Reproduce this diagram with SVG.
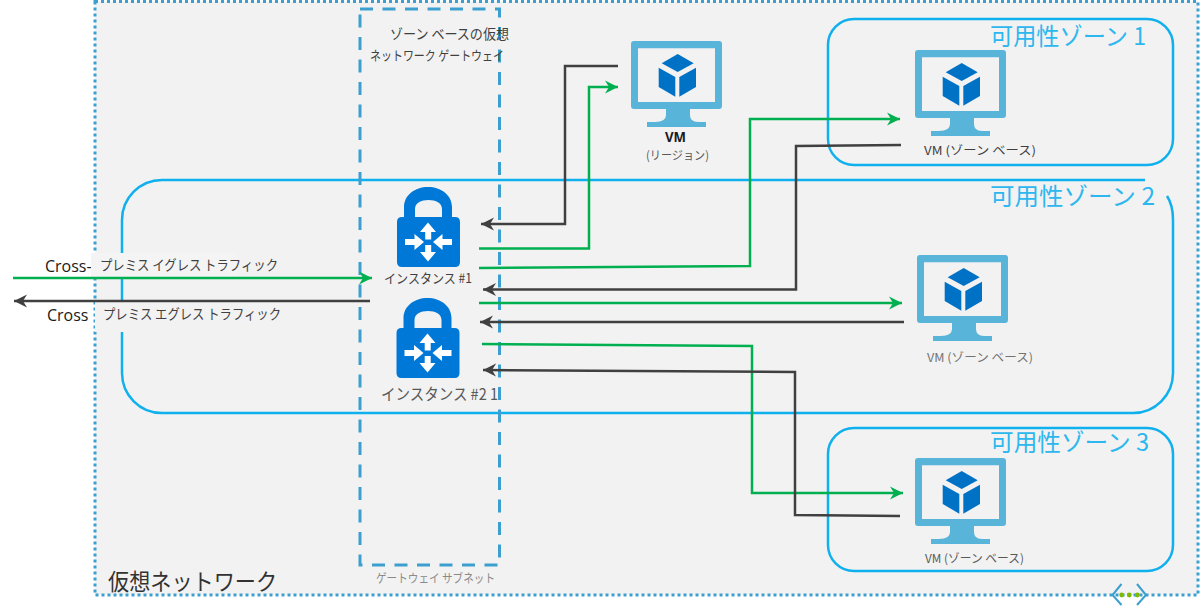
<svg xmlns="http://www.w3.org/2000/svg" xmlns:xlink="http://www.w3.org/1999/xlink" width="1200" height="614" viewBox="0 0 1200 614">
<style>
text{font-family:"Noto Sans CJK JP","Noto Sans",sans-serif;fill:#404040}
.latin{font-family:"Open Sans","Noto Sans",sans-serif}
.zone{fill:none;stroke:#0fb0ee;stroke-width:2.5}
text.zl{fill:#2db7ef;font-size:24px}
.c{fill:none;stroke-width:2.5}
.g{stroke:#00b050;marker-end:url(#ag)}
.d{stroke:#404040;marker-end:url(#ad)}
.sc{fill:#59b4d9}
.cube{fill:#0072c6}
.m{font-size:12px}
text.black{fill:#1a1a1a}
text.mid{fill:#595959}
text.soft{fill:#737373}
text.pale{fill:#8a8a8a}
text.title{fill:#333}
</style>
<defs>
<marker id="ag" markerUnits="userSpaceOnUse" markerWidth="16" markerHeight="16" refX="13" refY="7" orient="auto"><path d="M0 0.5 L13 7 L0 13.5 L4 7Z" fill="#00b050"/></marker>
<marker id="ad" markerUnits="userSpaceOnUse" markerWidth="16" markerHeight="16" refX="13" refY="7" orient="auto"><path d="M0 0.5 L13 7 L0 13.5 L4 7Z" fill="#404040"/></marker>
<g id="vmicon">
<path class="sc" fill-rule="evenodd" d="M3 0H88Q91 0 91 3V65Q91 68 88 68H59V74Q59 81 67 81H75V86H16V81H24Q35 81 35 74V68H3Q0 68 0 65V3Q0 0 3 0ZM7 7.300V61H84V7.300Z"/>
<path class="cube" d="M46.700 13L62.700 22.300L46.700 31L30.700 22.300Z"/>
<path class="cube" d="M27.700 26.700L44.300 36V55.700L27.700 46Z"/>
<path class="cube" d="M48.300 36L65 26.700V46L48.300 55.700Z"/>
</g>
<g id="lock">
<path fill="#0078d7" fill-rule="evenodd" d="M7 30V20C7 8 18 0 31 0S55 8 55 20V30H58Q63 30 63 35V75Q63 80 58 80H5Q0 80 0 75V35Q0 30 5 30ZM18 30H45V22C45 16 39 13 31.500 13S18 16 18 22Z"/>
<g fill="#fff">
<path d="M31 35.500L39 45H34.200V52.500H28.200V45H23Z"/>
<path d="M31 74.500L39 65H34.200V58H28.200V65H23Z"/>
<path d="M27 55L17.500 63V58H8V52H17.500V47Z"/>
<path d="M36 55L45.500 47V52H55V58H45.500V63Z"/>
</g>
</g>
</defs>
<rect width="1200" height="614" fill="#fff"/>
<g id="vnet">
<rect x="95" y="1.500" width="1103" height="593.500" fill="#f2f2f2" stroke="#3c9fd0" stroke-width="3" stroke-dasharray="3 3"/>
<text class="title" x="108" y="590" font-size="23" textLength="169" lengthAdjust="spacingAndGlyphs">仮想ネットワーク</text>
<g id="vnet-icon">
<path d="M1121.500 584L1112.500 595L1121.500 605M1137 584L1146 595L1137 605" fill="none" stroke="#3c9fd0" stroke-width="2"/>
<circle cx="1121.700" cy="595" r="2.400" fill="#7fba00"/><circle cx="1129.300" cy="595" r="2.400" fill="#7fba00"/><circle cx="1137.300" cy="595" r="2.400" fill="#7fba00"/>
</g>
</g>
<g id="zone-1">
<rect class="zone" x="828" y="19" width="345" height="146" rx="26"/>
<text class="zl" x="990" y="45" textLength="156" lengthAdjust="spacingAndGlyphs">可用性ゾーン 1</text>
</g>
<g id="zone-2">
<path class="zone" d="M1145 180H162A40 40 0 0 0 122 220V373A40 40 0 0 0 162 413H1133A40 40 0 0 0 1173 373V220Q1173 205 1167 196"/>
<text class="zl" x="990" y="205" textLength="165" lengthAdjust="spacingAndGlyphs">可用性ゾーン 2</text>
</g>
<g id="zone-3">
<rect class="zone" x="828" y="428" width="345" height="143" rx="26"/>
<text class="zl" x="990" y="451" textLength="159" lengthAdjust="spacingAndGlyphs">可用性ゾーン 3</text>
</g>
<g id="gateway-subnet">
<rect x="360" y="9" width="139.500" height="556" fill="none" stroke="#3c9fd0" stroke-width="3" stroke-dasharray="13 9.500"/>
<text x="390" y="39" font-size="14" textLength="119" lengthAdjust="spacingAndGlyphs">ゾーン ベースの仮想</text>
<text x="370" y="60" font-size="13" textLength="134" lengthAdjust="spacingAndGlyphs">ネットワーク ゲートウェイ</text>
<text class="pale" x="376" y="583" font-size="12" textLength="119" lengthAdjust="spacingAndGlyphs">ゲートウェイ サブネット</text>
</g>
<g id="cross-labels">
<text class="latin black" x="45" y="272" font-size="16">Cross-</text>
<text class="latin black" x="47" y="321" font-size="16">Cross</text>
<rect x="91" y="253" width="146" height="24.500" fill="#f4f4f4"/>
<rect x="95" y="302" width="185" height="30" fill="#f2f2f2"/>
<text x="100" y="270" font-size="14" textLength="178" lengthAdjust="spacingAndGlyphs">プレミス イグレス トラフィック</text>
<text x="103" y="319" font-size="14" textLength="178" lengthAdjust="spacingAndGlyphs">プレミス エグレス トラフィック</text>
</g>
<g id="instance-1">
<use xlink:href="#lock" href="#lock" x="397" y="187"/>
<text x="384" y="283" font-size="13" textLength="88" lengthAdjust="spacingAndGlyphs">インスタンス #1</text>
</g>
<g id="instance-2">
<use xlink:href="#lock" href="#lock" x="396.500" y="298"/>
<text class="mid" x="381" y="400" font-size="16" textLength="117" lengthAdjust="spacingAndGlyphs">インスタンス #2 1</text>
</g>
<g id="vm-region">
<use xlink:href="#vmicon" href="#vmicon" x="631" y="41"/>
<text class="latin black" x="665" y="142" font-size="15" font-weight="700" textLength="21" lengthAdjust="spacingAndGlyphs">VM</text>
<text class="m mid" x="646" y="160" textLength="63" lengthAdjust="spacingAndGlyphs">(リージョン)</text>
</g>
<g id="vm-zone-1">
<use xlink:href="#vmicon" href="#vmicon" x="915" y="50"/>
<text x="924" y="155" class="m" textLength="112" lengthAdjust="spacingAndGlyphs">VM (ゾーン ベース)</text>
</g>
<g id="vm-zone-2">
<use xlink:href="#vmicon" href="#vmicon" x="917" y="255"/>
<text x="927" y="362" class="m soft" textLength="106" lengthAdjust="spacingAndGlyphs">VM (ゾーン ベース)</text>
</g>
<g id="vm-zone-3">
<use xlink:href="#vmicon" href="#vmicon" x="915" y="458"/>
<text x="925" y="563" class="m mid" textLength="99" lengthAdjust="spacingAndGlyphs">VM (ゾーン ベース)</text>
</g>
<g id="connectors">
<path class="c d" d="M618 66H565V224H481"/>
<path class="c g" d="M479 248.500H589V87H618"/>
<path class="c g" d="M479 268L750 266V119H900"/>
<path class="c d" d="M901 145L796 146V289.500H483"/>
<path class="c g" d="M479 303H902"/>
<path class="c d" d="M904 322H480"/>
<path class="c g" d="M482 344L752 346V493H903"/>
<path class="c d" d="M900 516L795 515V372L483 370"/>
<path class="c g" d="M13 278H372"/>
<path class="c d" d="M370 301H14"/>
</g>
</svg>
